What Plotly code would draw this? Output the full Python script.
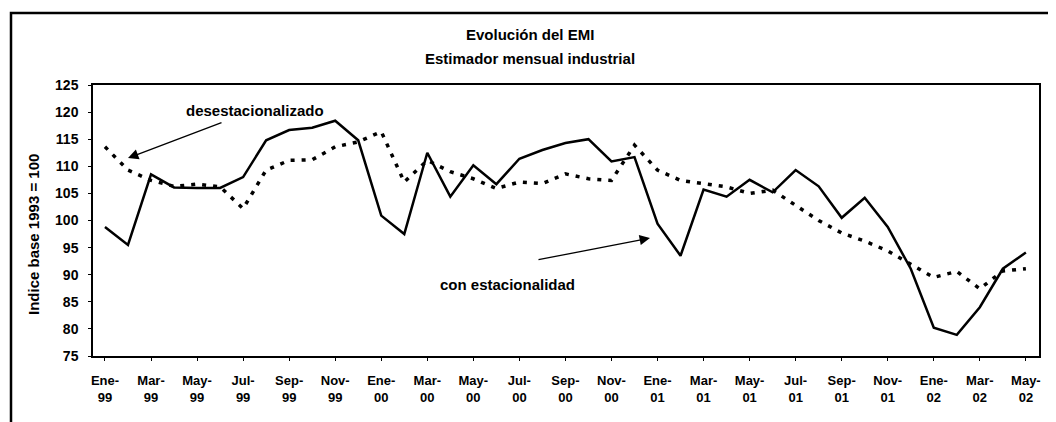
import plotly.graph_objects as go

months = ["Ene", "Feb", "Mar", "Abr", "May", "Jun", "Jul", "Ago", "Sep", "Oct", "Nov", "Dic"]
years = ["99", "00", "01", "02"]
periods = [f"{m}-{y}" for y in years for m in months][:41]

con_estacionalidad = [
    98.8, 95.5, 108.5, 106.1, 106.0, 106.0, 108.0, 114.8, 116.7, 117.1, 118.4, 114.8,
    100.9, 97.5, 112.5, 104.4, 110.2, 106.7, 111.4, 113.0, 114.3, 115.0, 110.9, 111.7,
    99.4, 93.5, 105.7, 104.4, 107.5, 105.2, 109.3, 106.3, 100.5, 104.2, 98.8, 91.1,
    80.2, 78.9, 84.0, 91.1, 94.1,
]
desestacionalizado = [
    113.6, 109.3, 107.4, 106.3, 106.7, 106.2, 102.2, 109.3, 111.1, 111.2, 113.6, 114.5,
    116.4, 107.1, 111.1, 109.0, 107.7, 105.9, 107.1, 106.8, 108.6, 107.7, 107.4, 113.9,
    109.3, 107.4, 106.8, 106.2, 105.0, 105.6, 102.8, 100.0, 97.7, 96.2, 94.4, 92.0,
    89.5, 90.6, 87.4, 90.7, 91.1,
]
y_ticks = [75, 80, 85, 90, 95, 100, 105, 110, 115, 120, 125]

idx = list(range(len(periods)))
tick_idx = idx[::2]
tick_text = [periods[i].replace("-", "-<br>") for i in tick_idx]

FONT = "Liberation Sans, Arial, sans-serif"

# page has an 8px body margin; figure sized to fit the window
OFF = 8
W, H = 1048, 414
PL, PT, PR, PB = 93, 85, 1039, 356  # plot box in screenshot pixels
L, T = PL - OFF, PT - OFF
R, B = W - (PR - OFF), H - (PB - OFF)

fig = go.Figure()
fig.add_trace(go.Scatter(x=idx, y=desestacionalizado, mode="lines",
                         line=dict(color="black", width=3.5, dash="4px,7px"),
                         name="desestacionalizado"))
fig.add_trace(go.Scatter(x=idx, y=con_estacionalidad, mode="lines",
                         line=dict(color="black", width=2.5),
                         name="con estacionalidad"))

fig.update_layout(
    width=W, height=H,
    margin=dict(l=L, r=R, t=T, b=B, autoexpand=False),
    paper_bgcolor="white", plot_bgcolor="white",
    showlegend=False,
    font=dict(family=FONT, color="black", size=13, weight="bold"),
)
fig.update_xaxes(range=[-0.52, 40.57], tickmode="array", tickvals=tick_idx, ticktext=tick_text,
                 showgrid=False, zeroline=False, showline=True, linecolor="black", linewidth=1.5,
                 mirror=True, ticks="outside", ticklen=3, tickcolor="black", automargin=False,
                 ticklabelstandoff=9,
                 tickfont=dict(family=FONT, size=13, weight="bold"), tickangle=0)
fig.update_yaxes(range=[75, 125], tickmode="array", tickvals=y_ticks,
                 showgrid=False, zeroline=False, showline=True, linecolor="black", linewidth=1.5,
                 mirror=True, ticks="outside", ticklen=3, tickcolor="black", automargin=False,
                 ticklabelstandoff=7,
                 tickfont=dict(family=FONT, size=14, weight="bold"))

def px2paper_x(px):
    return (px - PL) / (PR - PL)

def px2paper_y(py):
    return (PB - py) / (PB - PT)

def label(text, x, y, size, angle=0):
    fig.add_annotation(text=text, xref="paper", yref="paper",
                       x=px2paper_x(x), y=px2paper_y(y), xanchor="center", yanchor="middle",
                       textangle=angle, showarrow=False,
                       font=dict(family=FONT, size=size, weight="bold"))

def arrow(x_tail, y_tail, x_head, y_head):
    fig.add_annotation(x=px2paper_x(x_head), y=px2paper_y(y_head),
                       ax=px2paper_x(x_tail), ay=px2paper_y(y_tail),
                       xref="x domain", yref="y domain", axref="x domain", ayref="y domain",
                       text="", showarrow=True, arrowhead=2, arrowsize=1.6, arrowwidth=1.3,
                       arrowcolor="black")

label("Indice base 1993 = 100", 33, 235, 15, angle=-90)
label("Evolución del EMI", 530, 34, 15)
label("Estimador mensual industrial", 530, 59, 15)
label("desestacionalizado", 255, 110, 15)
arrow(223, 122, 128, 158)
label("con estacionalidad", 507, 284, 15)
arrow(537, 260, 650, 238)

# outer frame
fig.add_shape(type="rect", xref="paper", yref="paper",
              x0=px2paper_x(11), x1=px2paper_x(1070), y0=px2paper_y(440), y1=px2paper_y(13),
              line=dict(color="black", width=2.5), fillcolor="rgba(0,0,0,0)", layer="above")

fig.write_html("out.html")
